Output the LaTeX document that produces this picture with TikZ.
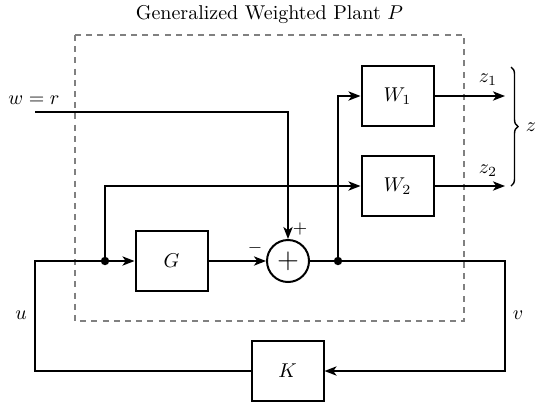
\documentclass[tikz,border=0pt]{standalone}
\usetikzlibrary{arrows.meta,decorations.pathreplacing,calc}
\begin{document}
\begin{tikzpicture}[x=0.5pt,y=-0.5pt,
  line width=1pt,
  >={Stealth[length=6pt,width=4.6pt,inset=1.6pt]},
  blk/.style={draw,rectangle,minimum width=36pt,minimum height=30pt,inner sep=0pt,line width=1pt},
  sumnode/.style={draw,circle,minimum size=21pt,inner sep=0pt,line width=1pt},
  junct/.style={circle,fill=black,inner sep=0pt,minimum size=4.2pt},
  lbl/.style={inner sep=0pt},
  plantbox/.style={draw=black!50,line width=1pt,dash pattern=on 3pt off 2.6pt}
]
\useasboundingbox (0,0) rectangle (545,403);

% dashed plant boundary
\draw[plantbox] (75,35) rectangle (464,321);
\node[lbl] (title) at (269.5,15) {Generalized Weighted Plant $P$};

% blocks
\node[blk] (W1) at (397.5,96) {$W_1$};
\node[blk] (W2) at (397.5,186) {$W_2$};
\node[blk] (G) at (171.5,261) {$G$};
\node[blk] (K) at (287.5,371) {$K$};
\node[sumnode] (S) at (288,261) {\Large$+$};

% junctions and corners
\node[junct] (jL) at (105,261) {};
\node[junct] (jR) at (338,261) {};
\coordinate (wstart) at (35,112);
\coordinate (wcorner) at (288,112);
\coordinate (rcorner) at (505,261);
\coordinate (lcorner) at (35,261);
\coordinate (z1end) at (505,96);
\coordinate (z2end) at (505,186);

% labels
\node[lbl] (wlab) at (34,100) {$w=r$};
\node[lbl] (ulab) at (21,315) {$u$};
\node[lbl] (vlab) at (518,315) {$v$};
\node[lbl] (z1lab) at (488,80) {$z_1$};
\node[lbl] (z2lab) at (488,171) {$z_2$};
\node[lbl] (zlab) at (531,127) {$z$};
\node[lbl,font=\small] (plus) at (300,229) {$+$};
\node[lbl,font=\small] (minus) at (255,248) {$-$};

% connectors
\draw[->] (wstart) -- (wcorner) -- (S.north);
\draw[->] (G.east) -- (S.west);
\draw (S.east) -- (jR.center);
\draw[->] (jR.center) -- (rcorner) |- (K.east);
\draw[->] (K.west) -| (lcorner) -- (G.west);
\draw[->] (jL.center) |- (W2.west);
\draw[->] (jR.center) |- (W1.west);
\draw[->] (W1.east) -- (z1end);
\draw[->] (W2.east) -- (z2end);

% brace
\draw[line width=0.7pt,decorate,decoration={brace,amplitude=3.5pt}] (511,67) -- (511,186);
\end{tikzpicture}
\end{document}
